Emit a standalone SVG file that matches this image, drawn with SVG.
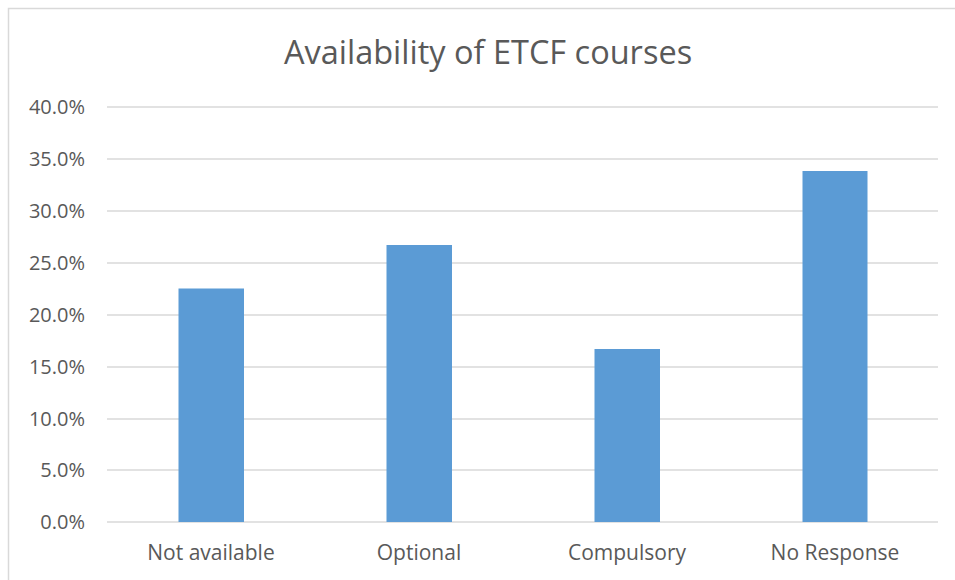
<svg xmlns="http://www.w3.org/2000/svg" width="955" height="580" viewBox="0 0 955 580">
<style>
.grid{stroke:#D9D9D9;stroke-width:1.5;fill:none}
.bar{fill:#5B9BD5}
.ylab{font-family:"Open Sans","Liberation Sans",sans-serif;font-size:20px;fill:#595959;text-anchor:end}
.xlab{font-family:"Open Sans","Liberation Sans",sans-serif;font-size:21px;fill:#595959;text-anchor:middle}
.title{font-family:"Open Sans","Liberation Sans",sans-serif;font-size:32.5px;fill:#595959;text-anchor:middle}
</style>
<rect width="955" height="580" fill="#FFFFFF"/>
<path d="M8.5 580 V8.5 H955" stroke="#D9D9D9" stroke-width="1.5" fill="none"/>
<text class="title" x="488" y="64">Availability of ETCF courses</text>
<g id="gridlines">
<line class="grid" x1="107" y1="107" x2="938" y2="107"/>
<line class="grid" x1="107" y1="159" x2="938" y2="159"/>
<line class="grid" x1="107" y1="211" x2="938" y2="211"/>
<line class="grid" x1="107" y1="263" x2="938" y2="263"/>
<line class="grid" x1="107" y1="315" x2="938" y2="315"/>
<line class="grid" x1="107" y1="367" x2="938" y2="367"/>
<line class="grid" x1="107" y1="419" x2="938" y2="419"/>
<line class="grid" x1="107" y1="470" x2="938" y2="470"/>
<line class="grid" x1="107" y1="522" x2="938" y2="522"/>
</g>
<g id="yaxis">
<text class="ylab" x="85" y="114">40.0%</text>
<text class="ylab" x="85" y="166">35.0%</text>
<text class="ylab" x="85" y="218">30.0%</text>
<text class="ylab" x="85" y="270">25.0%</text>
<text class="ylab" x="85" y="322">20.0%</text>
<text class="ylab" x="85" y="374">15.0%</text>
<text class="ylab" x="85" y="426">10.0%</text>
<text class="ylab" x="85" y="477">5.0%</text>
<text class="ylab" x="85" y="529">0.0%</text>
</g>
<g id="bar-not-available">
<rect class="bar" x="178.5" y="288.5" width="65.5" height="233.5"/>
<text class="xlab" x="211" y="560">Not available</text>
</g>
<g id="bar-optional">
<rect class="bar" x="386.5" y="245" width="65.5" height="277"/>
<text class="xlab" x="419" y="560">Optional</text>
</g>
<g id="bar-compulsory">
<rect class="bar" x="594.5" y="349" width="65.5" height="173"/>
<text class="xlab" x="627" y="560">Compulsory</text>
</g>
<g id="bar-no-response">
<rect class="bar" x="802.5" y="171" width="65" height="351"/>
<text class="xlab" x="835" y="560">No Response</text>
</g>
</svg>
